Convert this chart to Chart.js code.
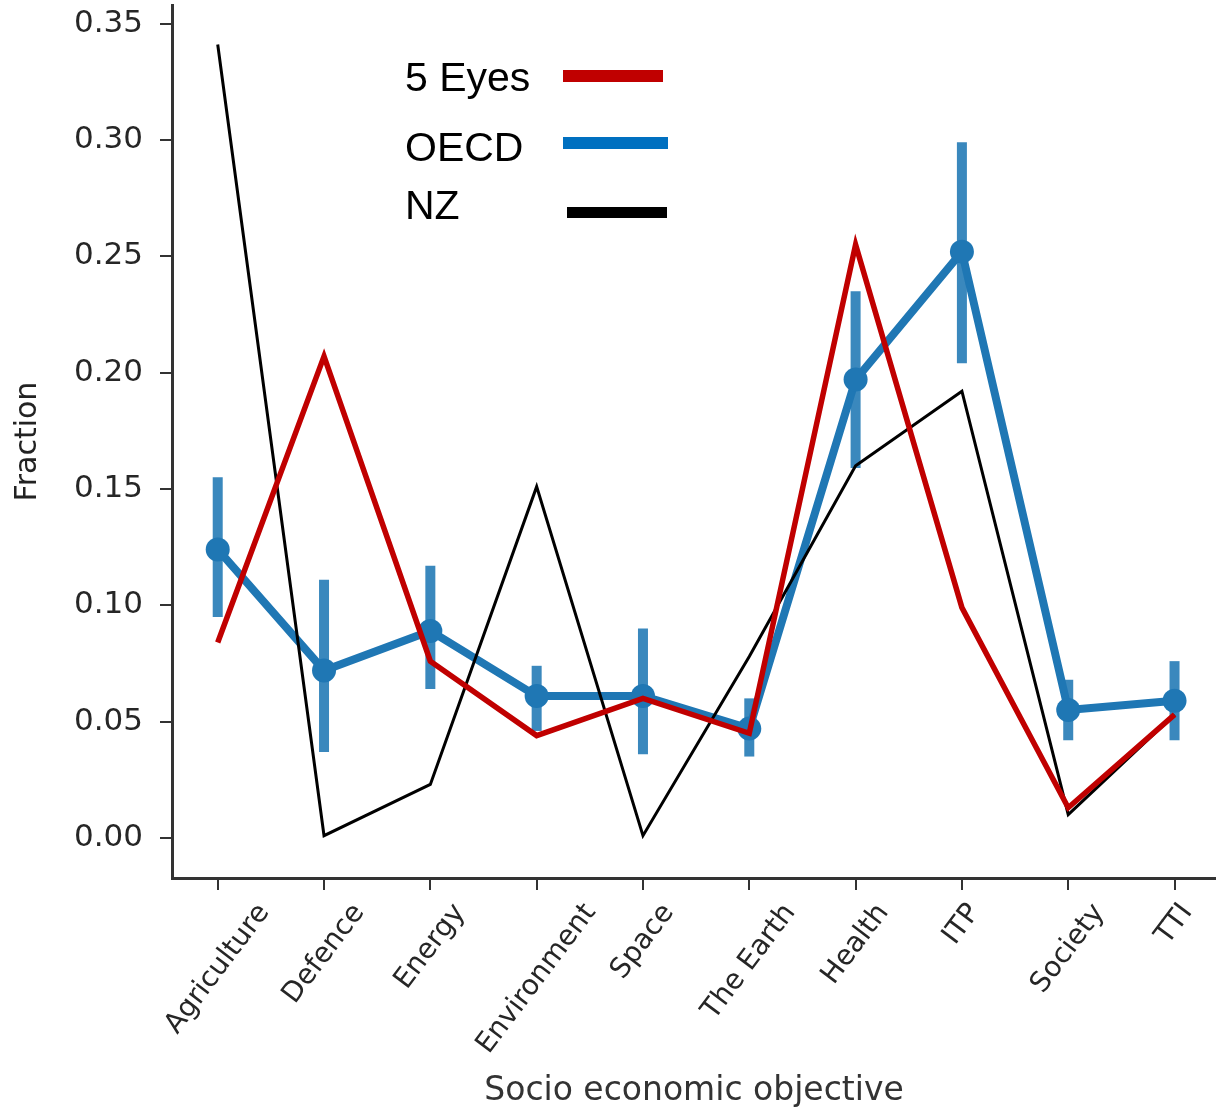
<!DOCTYPE html>
<html>
<head>
<meta charset="utf-8">
<script src="https://cdn.jsdelivr.net/npm/chart.js@4.4.1/dist/chart.umd.min.js"></script>
<style>
html,body{margin:0;padding:0;background:#fff}
#wrap{position:relative;width:1216px;height:1108px}
.leg{position:absolute;font-family:"Liberation Sans",Arial,sans-serif;font-size:41px;line-height:41px;color:#000;white-space:nowrap}
.sw{position:absolute;height:12px}
</style>
</head>
<body>
<div id="wrap">
  <canvas id="chart" width="1216" height="1108"></canvas>
  <div class="leg" style="left:405px;top:57px">5 Eyes</div>
  <div class="sw" style="left:563px;top:70px;width:100px;background:#c00000"></div>
  <div class="leg" style="left:405px;top:127px">OECD</div>
  <div class="sw" style="left:563px;top:137px;width:105px;background:#0070c0"></div>
  <div class="leg" style="left:405px;top:185px">NZ</div>
  <div class="sw" style="left:567px;top:207px;width:100px;height:11px;background:#000"></div>
</div>
<script>
// data
const categories = ['Agriculture','Defence','Energy','Environment','Space','The Earth','Health','ITP','Society','TTI'];
const fiveEyes = [0.084, 0.207, 0.076, 0.044, 0.060, 0.045, 0.255, 0.099, 0.013, 0.053];
const nz       = [0.341, 0.001, 0.023, 0.151, 0.001, 0.078, 0.160, 0.192, 0.010, 0.053];
const oecd     = [0.124, 0.072, 0.089, 0.061, 0.061, 0.047, 0.197, 0.252, 0.055, 0.059];
const oecdLow  = [0.095, 0.037, 0.064, 0.046, 0.036, 0.035, 0.159, 0.204, 0.042, 0.042];
const oecdHigh = [0.155, 0.111, 0.117, 0.074, 0.090, 0.060, 0.235, 0.299, 0.068, 0.076];
const yTicks = [0, 0.05, 0.10, 0.15, 0.20, 0.25, 0.30, 0.35];

const labelAngle = 53;
const axisColor = '#333';

function pts(arr){ return arr.map((v,i)=>({x:i,y:v})); }

// OECD confidence bars
const errorBars = {
  id:'errorBars',
  beforeDatasetsDraw(chart){
    const {ctx, scales:{x,y}} = chart;
    ctx.save();
    ctx.strokeStyle = 'rgba(31,119,180,0.88)';
    ctx.lineWidth = 10;
    categories.forEach((c,i)=>{
      const px = x.getPixelForValue(i);
      ctx.beginPath();
      ctx.moveTo(px, y.getPixelForValue(oecdLow[i]));
      ctx.lineTo(px, y.getPixelForValue(oecdHigh[i]));
      ctx.stroke();
    });
    ctx.restore();
  }
};

// rotated category labels, centred under each tick
const xLabels = {
  id:'xLabels',
  afterDraw(chart){
    const {ctx, scales:{x}} = chart;
    const a = labelAngle*Math.PI/180;
    ctx.save();
    ctx.font = '28px "DejaVu Sans"';
    ctx.fillStyle = '#262626';
    ctx.textAlign = 'center';
    ctx.textBaseline = 'middle';
    categories.forEach((c,i)=>{
      const w = ctx.measureText(c).width;
      const h = 22;
      const boxH = w*Math.sin(a) + h*Math.cos(a);
      const cx = x.getPixelForValue(i);
      const cy = x.top + 23 + boxH/2;
      ctx.save();
      ctx.translate(cx, cy);
      ctx.rotate(-a);
      ctx.fillText(c, 0, 0);
      ctx.restore();
    });
    ctx.restore();
  }
};

new Chart(document.getElementById('chart'), {
  type:'line',
  data:{
    datasets:[
      {label:'5 Eyes', data:pts(fiveEyes), borderColor:'#c00000', borderWidth:5.5, pointRadius:0, tension:0, clip:false},
      {label:'NZ', data:pts(nz), borderColor:'#000', borderWidth:3, pointRadius:0, tension:0, clip:false},
      {label:'OECD', data:pts(oecd), borderColor:'#1f77b4', backgroundColor:'#1f77b4', borderWidth:8,
       pointRadius:12, pointBorderWidth:0, pointBackgroundColor:'#1f77b4', tension:0, clip:false}
    ]
  },
  options:{
    responsive:false,
    animation:false,
    devicePixelRatio:1,
    layout:{autoPadding:false, padding:{top:5,left:0,right:0,bottom:0}},
    plugins:{legend:{display:false}, tooltip:{enabled:false}},
    scales:{
      x:{
        type:'linear', min:-0.43, max:9.39,
        afterBuildTicks: s => { s.ticks = categories.map((c,i)=>({value:i})); },
        afterFit: s => { s.height = 230; s.paddingLeft = 0; s.paddingRight = 0; },
        ticks:{display:false},
        grid:{drawOnChartArea:false, drawTicks:true, tickLength:12, color:axisColor, lineWidth:2},
        border:{display:true, color:axisColor, width:3},
        title:{display:true, text:'Socio economic objective', color:'#333',
               font:{family:'DejaVu Sans', size:33, lineHeight:1}, padding:{top:0,bottom:0}}
      },
      y:{
        type:'linear', min:-0.0172, max:0.358,
        afterBuildTicks: s => { s.ticks = yTicks.map(v=>({value:v})); },
        afterFit: s => { s.width = 172; s.paddingTop = 0; s.paddingBottom = 0; },
        ticks:{font:{family:'DejaVu Sans', size:31}, color:'#262626', padding:17, callback:v=>v.toFixed(2)},
        grid:{drawOnChartArea:false, drawTicks:true, tickLength:12, color:axisColor, lineWidth:2},
        border:{display:true, color:axisColor, width:3},
        title:{display:true, text:'Fraction', color:'#222',
               font:{family:'DejaVu Sans', size:30, lineHeight:1}, padding:{top:13,bottom:0}}
      }
    }
  },
  plugins:[errorBars, xLabels]
});
</script>
</body>
</html>
